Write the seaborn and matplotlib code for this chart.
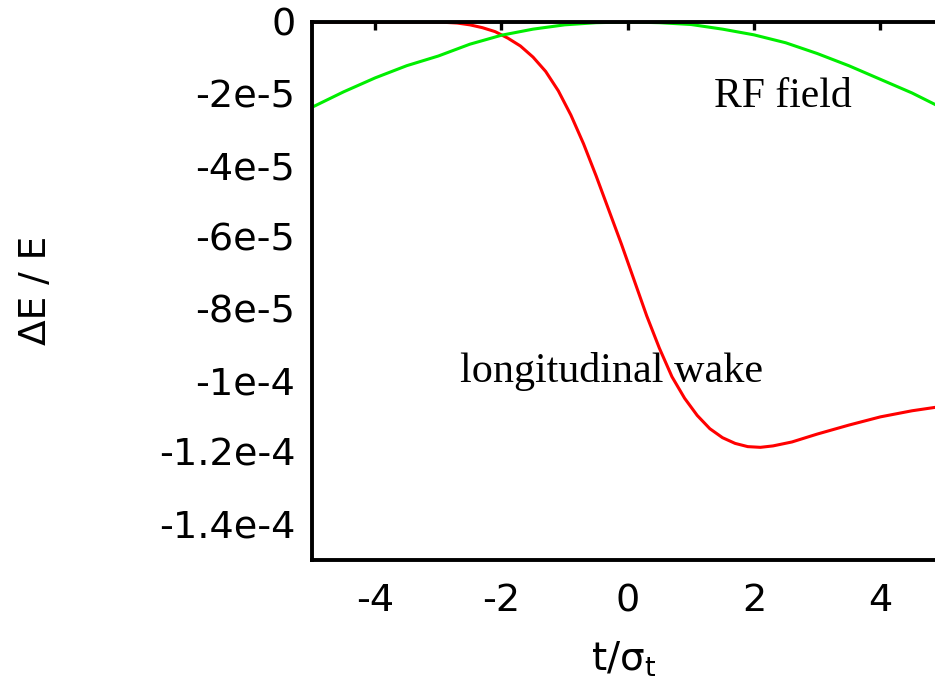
import matplotlib
matplotlib.use("Agg")
import matplotlib.pyplot as plt
import seaborn as sns
import pandas as pd
import numpy as np

# ---- data (values in units of 1e-5) ----
rf_t = [-5.0, -4.5, -4.0, -3.5, -3.0, -2.5, -2.0, -1.5, -1.0, -0.5, 0.0,
        0.5, 1.0, 1.5, 2.0, 2.5, 3.0, 3.5, 4.0, 4.5, 5.0]
rf_dE = [-2.38, -1.95, -1.56, -1.22, -0.95, -0.62, -0.37, -0.20, -0.08, -0.02, 0.0,
         -0.02, -0.07, -0.20, -0.36, -0.58, -0.88, -1.22, -1.60, -1.98, -2.42]

wake_t = [-5.0, -4.0, -3.2, -2.9, -2.7, -2.5, -2.3, -2.1, -1.9, -1.7, -1.5,
          -1.3, -1.1, -0.9, -0.7, -0.5, -0.3, -0.1, 0.1, 0.3, 0.5,
          0.7, 0.9, 1.1, 1.3, 1.5, 1.7, 1.9, 2.1, 2.3, 2.6,
          3.0, 3.5, 4.0, 4.5, 5.0]
wake_dE = [0.0, 0.0, 0.0, -0.01, -0.03, -0.08, -0.16, -0.27, -0.45, -0.67, -0.98,
           -1.38, -1.92, -2.6, -3.4, -4.3, -5.25, -6.2, -7.2, -8.2, -9.1,
           -9.9, -10.5, -10.98, -11.35, -11.6, -11.76, -11.85, -11.87, -11.83, -11.72,
           -11.5, -11.25, -11.02, -10.85, -10.72]

x_ticks = [-4, -2, 0, 2, 4]
y_ticks = [0, -2e-5, -4e-5, -6e-5, -8e-5, -1e-4, -1.2e-4, -1.4e-4]
y_ticklabels = ["0", "-2e-5", "-4e-5", "-6e-5", "-8e-5", "-1e-4", "-1.2e-4", "-1.4e-4"]

scale = 1e-5
rf = pd.DataFrame({"t": rf_t, "dE": np.array(rf_dE) * scale})
wake = pd.DataFrame({"t": wake_t, "dE": np.array(wake_dE) * scale})

sns.set_theme(style="white")
plt.rcParams["font.family"] = ["DejaVu Sans"]
plt.rcParams["mathtext.fontset"] = "dejavusans"

fig = plt.figure(figsize=(9.35, 6.91), dpi=100)
ax = fig.add_axes([0.3337, 0.1903, 0.6754, 0.7779])

sns.lineplot(data=wake, x="t", y="dE", ax=ax, color="#ff0000", lw=2.2)
sns.lineplot(data=rf, x="t", y="dE", ax=ax, color="#00ee00", lw=2.2)

ax.set_xlim(-5, 5)
ax.set_ylim(-1.5e-4, 0)
ax.set_xticks(x_ticks)
ax.set_xticklabels([str(v) for v in x_ticks])
ax.set_yticks(y_ticks)
ax.set_yticklabels(y_ticklabels)

for s in ax.spines.values():
    s.set_color("black")
    s.set_linewidth(2.8)
    s.set_zorder(5)

ax.tick_params(axis="both", which="major", direction="in", length=6, width=2.4,
               color="black", labelsize=27.5, top=True, right=True,
               labelcolor="black")
ax.tick_params(axis="x", pad=17)
ax.tick_params(axis="y", pad=12)

ax.set_xlabel(r"$\mathrm{t/\sigma_t}$", fontsize=28, color="black")
ax.xaxis.set_label_coords((624 - 312) / 631.5, 1 - (640 - 22) / 537.5)
ax.set_ylabel("ΔE / E", fontsize=27, color="black")
ax.yaxis.set_label_coords((54 - 312) / 631.5, 0.5)

ax.text(2.45, -2.37e-5, "RF field", family="Liberation Serif", fontsize=30,
        ha="center", va="baseline", color="black")
ax.text(-0.26, -10.06e-5, "longitudinal wake", family="Liberation Serif", fontsize=30.3,
        ha="center", va="baseline", color="black")

fig.savefig("out.png", dpi=100)
